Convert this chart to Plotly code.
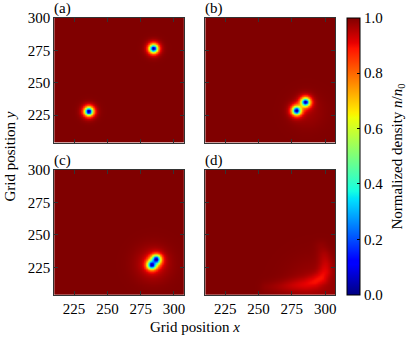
import numpy as np
import plotly.graph_objects as go

# grid extent shown (grid units)
x_min, x_max = 210, 307.5
y_min, y_max = 204, 300
tick_vals = [225, 250, 275, 300]
cbar_ticks = [0.0, 0.2, 0.4, 0.6, 0.8, 1.0]

# vortex cores per panel
vort_a_x = [235.8, 284.6]
vort_a_y = [228.2, 276.5]
vort_b_x = [278.3, 285.0]
vort_b_y = [228.8, 235.3]
vort_c_x = [283.3, 286.6]
vort_c_y = [227.3, 231.4]
vort_d_x = []
vort_d_y = []
core_size = 3.0

# faint sound-wave arc left in panel (d)
arc_d_x = [256, 266, 276, 285, 292, 297, 299.5, 300, 299, 297]
arc_d_y = [210, 210.5, 211.5, 212.5, 214.5, 217.5, 222, 228, 235, 241]
arc_d_depth = [0.015, 0.03, 0.05, 0.065, 0.08, 0.085, 0.075, 0.055, 0.035, 0.015]

# broad shallow dips (wake): x, y, width, depth
wake_a = [260, 252, 10, 0.0]
wake_b = [286, 228, 9, 0.025]
wake_c = [284, 228, 9, 0.06]
wake_d = [292, 210, 14, 0.03]

labels = ["(a)", "(b)", "(c)", "(d)"]

gx = np.arange(x_min - 1, x_max + 1.5, 0.5)
gy = np.arange(y_min - 1, y_max + 1.5, 0.5)
X, Y = np.meshgrid(gx, gy)


def seg_dist(px, py, ax_, ay_, bx, by):
    dx, dy = bx - ax_, by - ay_
    t = np.clip(((px - ax_) * dx + (py - ay_) * dy) / (dx * dx + dy * dy), 0, 1)
    return np.hypot(px - ax_ - t * dx, py - ay_ - t * dy), t


def density(vx, vy, wake, arc=None):
    n = np.ones_like(X)
    for cx, cy in zip(vx, vy):
        r = np.hypot(X - cx, Y - cy)
        n *= np.tanh(r / core_size) ** 2
    wx, wy, ww, wd = wake
    n *= 1 - wd * np.exp(-((X - wx) ** 2 + (Y - wy) ** 2) / (2 * ww ** 2))
    if arc is not None:
        ax_, ay_, ad_ = arc
        dip = np.zeros_like(X)
        for j in range(len(ax_) - 1):
            d, t = seg_dist(X, Y, ax_[j], ay_[j], ax_[j + 1], ay_[j + 1])
            depth = ad_[j] + t * (ad_[j + 1] - ad_[j])
            dip = np.maximum(dip, depth * np.exp(-d ** 2 / (2 * 3.5 ** 2)))
        n *= 1 - dip
    return n


fields = [
    density(vort_a_x, vort_a_y, wake_a),
    density(vort_b_x, vort_b_y, wake_b),
    density(vort_c_x, vort_c_y, wake_c),
    density(vort_d_x, vort_d_y, wake_d, (arc_d_x, arc_d_y, arc_d_depth)),
]

# matplotlib "jet"
stops = [0, 0.11, 0.125, 0.34, 0.35, 0.375, 0.64, 0.65, 0.66, 0.89, 0.91, 1]
red = np.interp(stops, [0, 0.35, 0.66, 0.89, 1], [0, 0, 1, 1, 0.5])
green = np.interp(stops, [0, 0.125, 0.375, 0.64, 0.91, 1], [0, 0, 1, 1, 0, 0])
blue = np.interp(stops, [0, 0.11, 0.34, 0.65, 1], [0.5, 1, 1, 0, 0])
jet = [[s, f"rgb({round(r*255)},{round(g*255)},{round(b*255)})"] for s, r, g, b in zip(stops, red, green, blue)]

W, H = 420, 347
# panel boxes in pixels: left, right, top, bottom
col_px = [(54.3, 184.3), (205.7, 336.0)]
row_px = [(10.0, 137.7), (165.5, 293.7)]

FONT = "Liberation Serif"
fig = go.Figure()
layout = dict(
    width=W, height=H, margin=dict(l=0, r=0, t=0, b=0),
    paper_bgcolor="white", plot_bgcolor="white",
    font=dict(family=FONT, size=15, color="black"),
    showlegend=False,
)
annotations = []
for i in range(4):
    r, c = divmod(i, 2)
    k = "" if i == 0 else str(i + 1)
    xl, xr = col_px[c]
    yt, yb = row_px[r]
    fig.add_trace(go.Heatmap(
        x=gx, y=gy, z=fields[i], zmin=0, zmax=1, colorscale=jet, zsmooth="best",
        xaxis="x" + k, yaxis="y" + k, showscale=(i == 0),
        colorbar=dict(
            x=348.3 / W, xanchor="left", xpad=0, y=1 - 10 / H, yanchor="top", ypad=0,
            len=(294 - 10) / H, lenmode="fraction", thickness=13,
            outlinecolor="black", outlinewidth=1,
            tickvals=cbar_ticks, ticktext=[f"{t:.1f}" for t in cbar_ticks],
            ticks="inside", ticklen=3, tickcolor="black",
            tickfont=dict(family=FONT, size=15),
        ),
    ))
    axis_common = dict(showline=True, mirror="ticks", linecolor="#333", linewidth=1,
                       ticks="inside", ticklen=4, tickcolor="#333", tickvals=tick_vals,
                       showgrid=False, zeroline=False, tickfont=dict(family=FONT, size=15))
    layout["xaxis" + k] = dict(axis_common, domain=[xl / W, xr / W], range=[x_min, x_max],
                               anchor="y" + k, showticklabels=(r == 1))
    layout["yaxis" + k] = dict(axis_common, domain=[1 - yb / H, 1 - yt / H], range=[y_min, y_max],
                               anchor="x" + k, showticklabels=(c == 0))
    annotations.append(dict(text=labels[i], xref="paper", yref="paper", x=xl / W, y=1 - yt / H,
                            xanchor="left", yanchor="bottom", showarrow=False, xshift=-2, yshift=-1,
                            font=dict(family=FONT, size=15)))

annotations.append(dict(text="Grid position <i>x</i>", xref="paper", yref="paper",
                        x=195 / W, y=1 - 327 / H, xanchor="center", yanchor="middle",
                        showarrow=False, font=dict(family=FONT, size=15)))
annotations.append(dict(text="Grid position <i>y</i>", xref="paper", yref="paper",
                        x=11 / W, y=1 - 152 / H, xanchor="center", yanchor="middle", textangle=-90,
                        showarrow=False, font=dict(family=FONT, size=15)))
annotations.append(dict(text="Normalized density <i>n</i>/<i>n</i><sub>0</sub>", xref="paper", yref="paper",
                        x=399 / W, y=1 - 152 / H, xanchor="center", yanchor="middle", textangle=-90,
                        showarrow=False, font=dict(family=FONT, size=15)))
layout["annotations"] = annotations
fig.update_layout(**layout)
# the page body has an 8px default margin; drop it so the figure sits at the window corner
fig.write_html("out.html", config={"displayModeBar": False},
               post_script="document.body.style.margin='0px';")
